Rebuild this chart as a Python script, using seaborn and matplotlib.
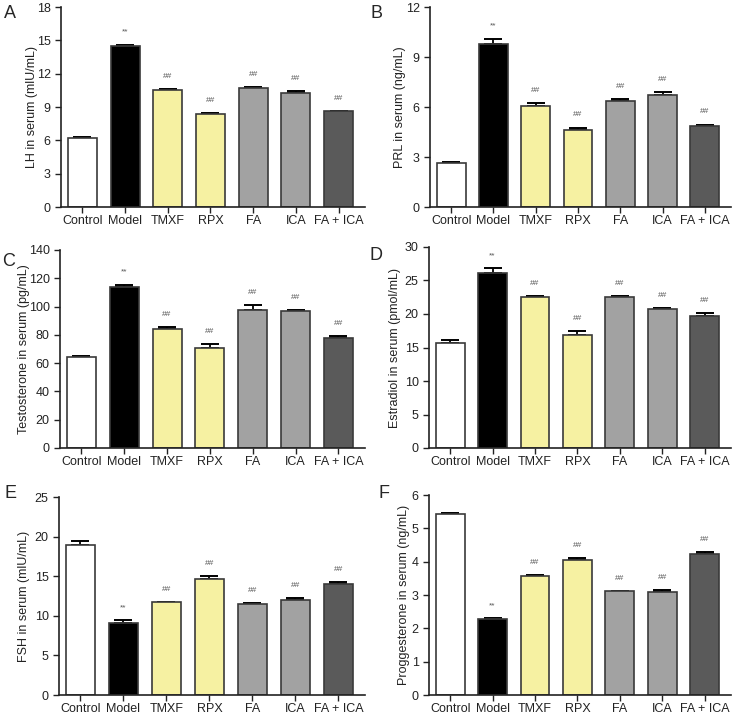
import numpy as np
import pandas as pd
import matplotlib.pyplot as plt
import seaborn as sns

# gruppi e colori
groups = ["Control", "Model", "TMXF", "RPX", "FA", "ICA", "FA + ICA"]
bar_colors = ["#ffffff", "#000000", "#f6f1a2", "#f6f1a2", "#a2a2a2", "#a2a2a2", "#5a5a5a"]
marks = ["", "**", "##", "##", "##", "##", "##"]

# valori (media, SEM)
lh_mean = [6.2, 14.5, 10.5, 8.4, 10.75, 10.3, 8.6]
lh_err = [0.1, 0.1, 0.15, 0.06, 0.08, 0.12, 0.02]
prl_mean = [2.63, 9.8, 6.07, 4.6, 6.37, 6.7, 4.88]
prl_err = [0.05, 0.3, 0.18, 0.17, 0.13, 0.18, 0.07]
testo_mean = [64, 113.5, 84, 71, 97.5, 97, 78]
testo_err = [0.7, 2.0, 1.5, 2.5, 3.5, 0.8, 1.5]
estra_mean = [15.7, 26.1, 22.5, 16.9, 22.6, 20.8, 19.7]
estra_err = [0.35, 0.7, 0.2, 0.6, 0.03, 0.15, 0.4]
fsh_mean = [19.0, 9.1, 11.7, 14.7, 11.5, 12.0, 14.0]
fsh_err = [0.4, 0.35, 0.1, 0.3, 0.1, 0.25, 0.3]
prog_mean = [5.42, 2.27, 3.58, 4.05, 3.12, 3.1, 4.22]
prog_err = [0.05, 0.04, 0.01, 0.06, 0.01, 0.05, 0.07]

# lettera, etichetta y, dati, ymax, passo, box assi (px), lettera (px), centro ylabel x (px)
panels = [
    ("A", "LH in serum (mlU/mL)", lh_mean, lh_err, 18, 3, [61, 365, 7, 207], (4, 13), 33),
    ("B", "PRL in serum (ng/mL)", prl_mean, prl_err, 12, 3, [430, 731, 7, 207], (371, 13), 401),
    ("C", "Testosterone in serum (pg/mL)", testo_mean, testo_err, 140, 20, [60, 365, 250, 448], (2, 262), 25),
    ("D", "Estradiol in serum (pmol/mL)", estra_mean, estra_err, 30, 5, [429, 731, 247, 448], (370, 255), 396),
    ("E", "FSH in serum (mlU/mL)", fsh_mean, fsh_err, 25, 5, [59, 365, 497, 695], (4, 493), 25),
    ("F", "Proggesterone in serum (ng/mL)", prog_mean, prog_err, 6, 1, [429, 731, 495, 695], (378, 493), 405),
]

sns.set_style("ticks")
plt.rcParams['font.family'] = ['Liberation Sans', 'DejaVu Sans']

W, H = 736, 717
fig = plt.figure(figsize=(W / 100, H / 100), dpi=100)

for letter, ylabel, means, errs, ymax, ystep, (l, r, t, b), (lx, ly), yl_x in panels:
    ax = fig.add_axes([l / W, 1 - b / H, (r - l) / W, (b - t) / H])
    df = pd.DataFrame({"group": groups, "value": means})
    sns.barplot(data=df, x="group", y="value", hue="group", palette=bar_colors,
                legend=False, errorbar=None, width=0.68, edgecolor="#3a3a3a",
                linewidth=1.2, saturation=1, ax=ax, zorder=2)
    # barre d'errore solo sopra (stile GraphPad)
    x = np.arange(len(groups))
    ax.errorbar(x, means, yerr=[np.zeros(len(errs)), errs], fmt="none",
                ecolor="#000000", elinewidth=1.3, capsize=6.5, capthick=1.4, zorder=1)
    for i, m in enumerate(marks):
        if m:
            ax.annotate(m, (x[i], means[i] + errs[i]), xytext=(0, 6.5), textcoords="offset points",
                        ha="center", va="bottom", fontsize=6, color="#555555")
    ax.set_xlim(-0.5, 6.62)
    ax.set_ylim(0, ymax)
    ax.set_yticks(np.arange(0, ymax + ystep / 2, ystep))
    ax.set_xlabel("")
    ax.set_ylabel(ylabel, fontsize=9, color="#222222")
    ax.yaxis.set_label_coords((yl_x + 5 - l) / (r - l), 0.5)
    ax.tick_params(axis="both", labelsize=9, colors="#222222", length=4, width=1)
    ax.tick_params(axis="x", pad=2)
    for s in ["left", "bottom"]:
        ax.spines[s].set_linewidth(1.2)
        ax.spines[s].set_color("#222222")
    sns.despine(ax=ax)
    fig.text(lx / W, 1 - ly / H, letter, fontsize=13, ha="left", va="center")

plt.savefig("out.png", dpi=100)
